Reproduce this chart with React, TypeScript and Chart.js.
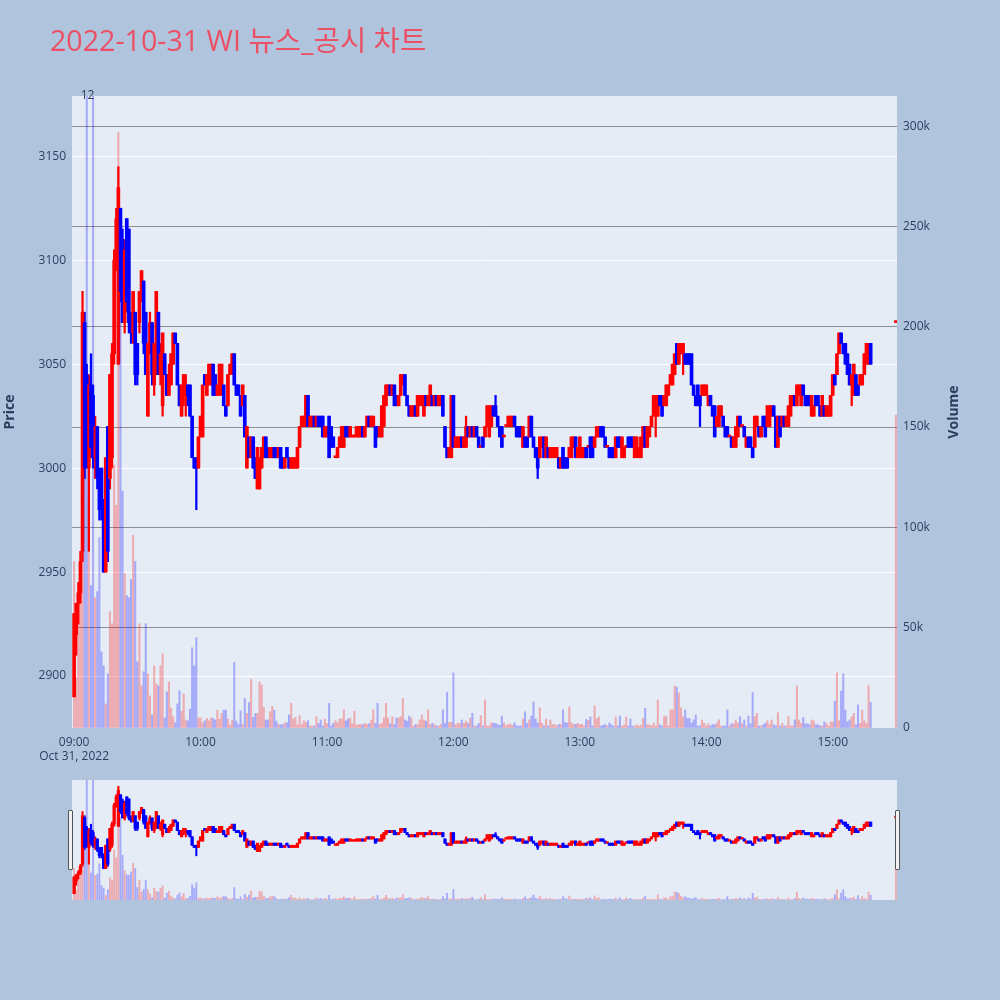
import React, { useEffect, useRef } from "react";
import { Chart, registerables } from "chart.js";

Chart.register(...registerables);

const TITLE = "2022-10-31 WI 뉴스_공시 차트";
const DATE_LABEL = "Oct 31, 2022";
const PRICE_TITLE = "Price";
const VOLUME_TITLE = "Volume";

// minutes after 09:00
const TIME_TICKS = [0, 60, 120, 180, 240, 300, 360];
const TIME_TICK_LABELS = ["09:00", "10:00", "11:00", "12:00", "13:00", "14:00", "15:00"];
const PRICE_TICKS = [2900, 2950, 3000, 3050, 3100, 3150];
const VOLUME_TICKS = [0, 50000, 100000, 150000, 200000, 250000, 300000];
const VOLUME_TICK_LABELS = ["0", "50k", "100k", "150k", "200k", "250k", "300k"];

const ANNOTATION_MINUTE = 6.4;
const ANNOTATION_TEXT = "12";

// one-minute candles from 09:00 (minute 0) to 15:19 (minute 379): [open, high, low, close]
const OHLC: number[][] = [
  [2890,2930,2890,2930],[2920,2935,2910,2935],[2935,2945,2925,2940],[2940,2960,2935,2955],[2960,3085,2955,3075],
  [3070,3075,2995,3000],[3045,3050,3000,3010],[3000,3045,2960,3040],[3040,3055,3005,3010],[3035,3040,3000,3005],
  [3005,3025,2995,3020],[3020,3020,2990,2995],[2995,3000,2975,2980],[3000,3000,2975,2980],[2980,2985,2950,2950],
  [2950,3005,2950,3005],[3020,3020,2955,2960],[2995,3045,2990,3045],[3005,3060,3000,3055],[3055,3105,3050,3100],
  [3100,3125,3095,3120],[3050,3145,3050,3135],[3125,3125,3080,3085],[3110,3115,3070,3070],[3070,3110,3065,3105],
  [3120,3120,3075,3080],[3115,3115,3065,3070],[3070,3075,3060,3065],[3065,3085,3060,3085],[3075,3075,3040,3045],
  [3060,3060,3040,3045],[3070,3085,3065,3085],[3085,3095,3080,3095],[3090,3090,3055,3060],[3075,3075,3045,3045],
  [3025,3060,3025,3060],[3060,3075,3055,3070],[3070,3070,3040,3045],[3040,3060,3035,3060],[3045,3085,3045,3085],
  [3075,3075,3045,3045],[3045,3060,3040,3055],[3030,3065,3025,3065],[3055,3055,3045,3045],[3045,3045,3035,3035],
  [3035,3050,3035,3045],[3040,3055,3040,3055],[3050,3065,3050,3065],[3065,3065,3060,3060],[3060,3060,3040,3040],
  [3040,3040,3030,3030],[3025,3040,3025,3040],[3035,3045,3030,3045],[3035,3045,3025,3040],[3040,3040,3030,3035],
  [3040,3040,3025,3025],[3025,3025,3005,3005],[3005,3005,3000,3000],[3005,3005,2980,3000],[3000,3015,3000,3015],
  [3015,3025,3015,3025],[3015,3040,3015,3040],[3045,3045,3040,3040],[3035,3045,3035,3045],[3040,3050,3040,3050],
  [3040,3050,3040,3050],[3050,3050,3035,3035],[3045,3045,3035,3035],[3035,3040,3035,3040],[3035,3050,3035,3050],
  [3040,3050,3035,3050],[3040,3040,3030,3030],[3030,3030,3025,3025],[3030,3045,3030,3045],[3045,3050,3045,3050],
  [3045,3055,3045,3055],[3055,3055,3040,3040],[3040,3040,3035,3035],[3040,3040,3035,3035],[3035,3035,3025,3025],
  [3030,3040,3030,3040],[3035,3035,3015,3015],[3000,3020,3000,3020],[3015,3015,3005,3005],[3005,3015,3005,3015],
  [3015,3015,3000,3000],[3005,3005,2995,2995],[2990,3010,2990,3010],[2990,3005,2990,3005],[3000,3010,3000,3010],
  [3005,3015,3005,3015],[3015,3015,3005,3005],[3010,3010,3005,3005],[3005,3010,3005,3010],[3005,3010,3005,3010],
  [3010,3010,3005,3005],[3010,3010,3005,3005],[3005,3010,3005,3010],[3010,3010,3000,3000],[3005,3005,3000,3000],
  [3000,3005,3000,3005],[3010,3010,3005,3005],[3005,3005,3000,3000],[3000,3005,3000,3005],[3000,3005,3000,3005],
  [3000,3005,3000,3005],[3000,3010,3000,3010],[3010,3020,3010,3020],[3020,3025,3020,3025],[3020,3025,3020,3025],
  [3020,3035,3020,3035],[3035,3035,3020,3020],[3020,3025,3020,3025],[3020,3025,3020,3025],[3025,3025,3020,3020],
  [3020,3025,3020,3025],[3025,3025,3020,3020],[3025,3025,3020,3020],[3025,3025,3015,3015],[3015,3020,3015,3020],
  [3015,3020,3015,3020],[3025,3025,3005,3005],[3020,3020,3010,3010],[3015,3015,3010,3010],[3005,3005,3005,3005],
  [3005,3010,3005,3010],[3010,3015,3010,3015],[3010,3020,3010,3020],[3010,3020,3010,3020],[3020,3020,3015,3015],
  [3020,3020,3015,3015],[3015,3020,3015,3020],[3015,3015,3015,3015],[3015,3015,3015,3015],[3015,3020,3015,3020],
  [3015,3020,3015,3020],[3015,3020,3015,3020],[3020,3020,3015,3015],[3015,3020,3015,3020],[3020,3025,3020,3025],
  [3025,3025,3020,3020],[3020,3025,3020,3025],[3020,3025,3020,3025],[3020,3020,3010,3010],[3020,3020,3015,3015],
  [3015,3020,3015,3020],[3015,3030,3015,3030],[3020,3035,3020,3035],[3030,3040,3030,3040],[3035,3040,3035,3040],
  [3040,3040,3035,3035],[3035,3040,3035,3040],[3040,3040,3030,3030],[3035,3035,3030,3030],[3030,3035,3030,3035],
  [3035,3045,3035,3045],[3040,3045,3040,3045],[3045,3045,3035,3035],[3035,3035,3030,3030],[3030,3030,3025,3025],
  [3025,3030,3025,3030],[3025,3030,3025,3030],[3030,3030,3025,3025],[3025,3035,3025,3035],[3030,3035,3030,3035],
  [3030,3035,3030,3035],[3025,3035,3025,3035],[3035,3035,3030,3030],[3030,3035,3030,3035],[3030,3040,3030,3040],
  [3035,3035,3030,3030],[3030,3035,3030,3035],[3035,3035,3030,3030],[3030,3035,3030,3035],[3030,3035,3030,3035],
  [3035,3035,3025,3025],[3020,3020,3010,3010],[3010,3010,3005,3005],[3005,3010,3005,3010],[3005,3035,3005,3035],
  [3035,3035,3010,3010],[3010,3015,3010,3015],[3010,3015,3010,3015],[3010,3015,3010,3015],[3015,3015,3010,3010],
  [3010,3015,3010,3015],[3010,3025,3010,3020],[3020,3020,3015,3015],[3015,3020,3015,3020],[3020,3020,3015,3015],
  [3015,3020,3015,3020],[3020,3020,3015,3015],[3015,3015,3010,3010],[3010,3010,3010,3010],[3015,3015,3010,3010],
  [3015,3020,3015,3020],[3020,3030,3020,3030],[3015,3030,3015,3030],[3020,3030,3020,3030],[3030,3030,3025,3025],
  [3030,3035,3025,3025],[3025,3025,3020,3020],[3020,3020,3015,3015],[3020,3020,3010,3010],[3015,3015,3015,3015],
  [3020,3020,3020,3020],[3020,3025,3020,3025],[3020,3025,3020,3025],[3020,3025,3020,3025],[3025,3025,3020,3020],
  [3020,3020,3015,3015],[3020,3020,3015,3015],[3020,3020,3015,3015],[3010,3020,3010,3020],[3015,3015,3010,3010],
  [3015,3015,3010,3010],[3015,3025,3015,3025],[3025,3025,3015,3015],[3015,3015,3010,3010],[3010,3010,3005,3005],
  [3010,3010,2995,3000],[3005,3015,3005,3015],[3010,3015,3010,3015],[3015,3015,3005,3005],[3005,3015,3005,3015],
  [3010,3010,3005,3005],[3005,3010,3005,3010],[3005,3010,3005,3010],[3005,3010,3005,3010],[3005,3010,3005,3010],
  [3005,3005,3000,3000],[3000,3005,3000,3005],[3010,3010,3000,3000],[3005,3005,3000,3000],[3005,3005,3000,3000],
  [3005,3010,3005,3010],[3005,3015,3005,3015],[3010,3015,3010,3015],[3015,3015,3005,3005],[3005,3010,3005,3010],
  [3005,3015,3005,3015],[3005,3010,3005,3010],[3005,3010,3005,3010],[3010,3010,3005,3005],[3010,3010,3010,3010],
  [3015,3015,3005,3005],[3015,3015,3005,3005],[3010,3015,3010,3015],[3015,3020,3015,3020],[3015,3020,3015,3020],
  [3020,3020,3015,3015],[3020,3020,3015,3015],[3015,3015,3010,3010],[3010,3010,3010,3010],[3010,3010,3005,3005],
  [3010,3010,3005,3005],[3010,3010,3005,3005],[3005,3015,3005,3015],[3015,3015,3010,3010],[3015,3015,3010,3010],
  [3005,3015,3005,3015],[3005,3010,3005,3010],[3010,3010,3010,3010],[3015,3015,3010,3010],[3015,3015,3010,3010],
  [3015,3015,3010,3010],[3005,3015,3005,3015],[3010,3015,3005,3015],[3005,3010,3005,3010],[3005,3015,3005,3015],
  [3010,3020,3010,3020],[3020,3020,3010,3010],[3010,3020,3010,3020],[3015,3020,3015,3020],[3020,3025,3020,3025],
  [3025,3035,3025,3035],[3025,3035,3015,3035],[3025,3035,3025,3035],[3035,3035,3030,3030],[3035,3035,3025,3025],
  [3030,3035,3030,3035],[3030,3040,3030,3040],[3035,3040,3035,3040],[3040,3045,3040,3045],[3040,3050,3040,3050],
  [3045,3055,3045,3055],[3060,3060,3050,3050],[3050,3060,3050,3060],[3055,3060,3055,3060],[3055,3060,3045,3060],
  [3055,3055,3050,3050],[3055,3055,3050,3050],[3055,3055,3050,3050],[3055,3055,3040,3040],[3040,3040,3035,3035],
  [3035,3035,3030,3030],[3040,3040,3030,3030],[3035,3035,3020,3030],[3035,3040,3035,3040],[3035,3040,3035,3040],
  [3035,3040,3035,3040],[3030,3035,3030,3035],[3035,3035,3030,3030],[3030,3030,3025,3025],[3030,3030,3015,3015],
  [3020,3025,3020,3025],[3020,3030,3020,3030],[3025,3030,3025,3030],[3025,3025,3020,3020],[3020,3020,3015,3015],
  [3020,3020,3015,3015],[3015,3015,3015,3015],[3015,3015,3010,3010],[3010,3015,3010,3015],[3010,3020,3010,3020],
  [3015,3025,3015,3025],[3025,3025,3020,3020],[3020,3020,3020,3020],[3020,3020,3015,3015],[3010,3015,3010,3015],
  [3015,3015,3010,3010],[3015,3015,3010,3010],[3010,3010,3005,3005],[3010,3025,3010,3025],[3020,3025,3020,3025],
  [3020,3020,3015,3015],[3015,3020,3015,3020],[3025,3025,3020,3020],[3025,3025,3015,3015],[3020,3030,3020,3030],
  [3020,3030,3020,3030],[3025,3030,3025,3030],[3030,3030,3025,3025],[3025,3025,3010,3010],[3010,3025,3010,3025],
  [3025,3025,3015,3015],[3020,3025,3020,3025],[3025,3025,3020,3020],[3020,3025,3020,3025],[3020,3030,3020,3030],
  [3025,3035,3025,3035],[3030,3035,3030,3035],[3035,3035,3030,3030],[3030,3040,3030,3040],[3035,3040,3035,3040],
  [3030,3040,3030,3040],[3040,3040,3035,3035],[3035,3035,3030,3030],[3035,3035,3030,3030],[3035,3035,3030,3030],
  [3025,3035,3025,3035],[3025,3030,3025,3030],[3035,3035,3030,3030],[3035,3035,3030,3030],[3030,3030,3025,3025],
  [3025,3035,3025,3035],[3030,3030,3025,3025],[3025,3030,3025,3030],[3025,3030,3025,3030],[3025,3035,3025,3035],
  [3035,3045,3035,3045],[3045,3045,3040,3040],[3045,3055,3045,3055],[3055,3065,3055,3065],[3065,3065,3060,3060],
  [3060,3060,3055,3055],[3060,3060,3050,3050],[3055,3055,3045,3045],[3050,3050,3040,3040],[3040,3045,3030,3045],
  [3035,3050,3035,3050],[3045,3045,3035,3035],[3040,3040,3035,3035],[3040,3045,3040,3045],[3040,3045,3040,3045],
  [3045,3055,3045,3055],[3050,3060,3050,3060],[3050,3060,3050,3060],[3060,3060,3050,3050],
];

// volume per minute, thousands of shares
const VOLUMES_K: number[] = [
  83, 25, 63, 72, 164, 170, 340, 113, 71, 340,
  65, 68, 95, 38, 31, 12, 27, 58, 52, 131,
  111, 297, 216, 118, 77, 66, 65, 74, 96, 83,
  33, 52, 21, 28, 52, 27, 16, 6.5, 31, 22,
  21, 31, 37, 5, 18, 23, 10, 5.6, 2.6, 12,
  18.5, 8.4, 17, 4, 3.6, 9.4, 40, 31, 45, 5,
  5, 2.6, 3.6, 4.8, 3.6, 5, 4.8, 4, 8.8, 4.5,
  7.3, 9, 9, 4.5, 1.5, 4, 32.7, 3.4, 1.7, 8.6,
  1.7, 14.7, 7.3, 12.6, 24.2, 5.3, 7.3, 7.3, 23, 21.4,
  10.3, 4, 4, 8.1, 10.8, 8.8, 3.4, 1.7, 1.7, 1.7,
  2.6, 2.6, 6.5, 12.3, 4.5, 5.3, 1.7, 6.2, 1.7, 3.6,
  2.8, 3.6, 1, 1, 1, 5.6, 2.1, 4, 1, 4.5,
  2.1, 12.3, 1, 2.3, 3.6, 2.6, 4.5, 4.5, 9, 3.6,
  4.5, 5, 2.1, 8.4, 1.3, 1.7, 1.7, 1.7, 2.3, 1.7,
  2.1, 4, 9, 2.3, 12.3, 1.7, 2.3, 5, 12.3, 5,
  2.1, 5.6, 1.7, 5, 5, 5.6, 14.8, 4, 3.4, 5.9,
  5, 1, 1.7, 1.7, 4, 6.5, 4, 3.4, 9, 1.7,
  2.3, 1.7, 1, 1, 1.7, 9, 2.3, 17.8, 2.8, 2.8,
  27.5, 1.7, 2.3, 2.3, 4, 2.3, 3.4, 2.3, 5, 7.3,
  1, 1, 2.3, 6.2, 1, 14, 1, 1, 2.6, 2.3,
  2.3, 1.7, 1.3, 5.9, 2.6, 1, 1.7, 2, 1.3, 2.6,
  1, 1, 1, 4.5, 8.1, 2.3, 4, 5.9, 13, 4.5,
  2.5, 10.1, 2.3, 1, 4.5, 1, 4, 1.8, 1.8, 1,
  1.8, 1.8, 9, 2.8, 2.5, 10.6, 2.6, 1.8, 1.8, 2.3,
  1.8, 1.8, 1, 4.3, 3.8, 5.5, 1, 11, 4.6, 5.5,
  1, 1.3, 1.8, 1, 2.5, 1.6, 1, 5.5, 1, 6,
  1, 1.6, 5.5, 1, 4.5, 1, 1, 1.6, 1, 1.3,
  4.8, 9.8, 1.6, 1.6, 1, 2.5, 1, 14, 1.6, 1,
  5.6, 5.9, 1, 9, 9, 21, 20.3, 17.5, 10, 5.6,
  9, 4.8, 4.8, 2.5, 4, 6.5, 1, 1, 4, 2.3,
  1, 2.1, 1, 1.8, 1.6, 2.5, 4.1, 1, 1, 1,
  9, 1, 2.1, 2, 4, 2.5, 5.6, 2.1, 4, 1,
  5.9, 2.1, 17.7, 5.6, 7.3, 1, 1, 1.6, 2.3, 3.6,
  1.8, 4, 1.6, 1, 7.6, 1, 2.3, 1, 1, 5.6,
  1, 1, 4, 20.9, 4, 2.3, 5.3, 2.1, 2.1, 1.6,
  4, 3.6, 1.6, 1.6, 1, 1, 3.1, 2.3, 1, 3,
  3, 13.5, 27.5, 3.6, 18.4, 27, 8.9, 3.1, 4, 5.6,
  7.3, 1.6, 11.5, 2.3, 8.9, 3.6, 2.3, 21.1, 12.8, 21.1,
];

// closing auction at 15:30
const CLOSING_MINUTE = 390;
const CLOSING_OHLC = [3070, 3070, 3070, 3070];
const CLOSING_VOLUME_K = 156;

const UP = "#ff0000";
const DOWN = "#0000ff";
const VOL_UP = "rgba(255,0,0,0.28)";
const VOL_DOWN = "rgba(0,0,255,0.28)";
const PAPER = "#b0c4de";
const PLOT_BG = "#e5ecf6";
const TEXT = "#2a3f5f";
const TITLE_COLOR = "#eb5064";
const FONT = '"Open Sans", "Noto Sans CJK KR", sans-serif';

type Candle = { m: number; o: number; h: number; l: number; c: number; v: number };

function buildCandles(): Candle[] {
  const list: Candle[] = OHLC.map((r, i) => ({ m: i, o: r[0], h: r[1], l: r[2], c: r[3], v: VOLUMES_K[i] * 1000 }));
  list.push({ m: CLOSING_MINUTE, o: CLOSING_OHLC[0], h: CLOSING_OHLC[1], l: CLOSING_OHLC[2], c: CLOSING_OHLC[3], v: CLOSING_VOLUME_K * 1000 });
  return list;
}

function makeDatasets(cs: Candle[], w: { vol: number; body: number; wick: number; minLen: number }) {
  const up = (c: Candle) => c.c >= c.o;
  return [
    {
      type: "bar" as const,
      label: "Volume",
      yAxisID: "yv",
      data: cs.map((c) => ({ x: c.m, y: c.v })),
      backgroundColor: cs.map((c) => (up(c) ? VOL_UP : VOL_DOWN)),
      barThickness: w.vol,
      grouped: false,
      order: 0,
    },
    {
      type: "bar" as const,
      label: "Body",
      yAxisID: "y",
      data: cs.map((c) => ({ x: c.m, y: [Math.min(c.o, c.c), Math.max(c.o, c.c)] })),
      backgroundColor: cs.map((c) => (up(c) ? UP : DOWN)),
      barThickness: w.body,
      minBarLength: w.minLen,
      grouped: false,
      order: 1,
    },
    {
      type: "bar" as const,
      label: "Wick",
      yAxisID: "y",
      data: cs.map((c) => ({ x: c.m, y: [c.l, c.h] })),
      backgroundColor: cs.map((c) => (up(c) ? UP : DOWN)),
      barThickness: w.wick,
      grouped: false,
      order: 2,
    },
  ];
}

const X_MIN = -1;
const X_MAX = 390.5;

export default function App() {
  const mainRef = useRef<HTMLCanvasElement>(null);
  const miniRef = useRef<HTMLCanvasElement>(null);

  useEffect(() => {
    const candles = buildCandles();

    const bgPlugin = {
      id: "plotbg",
      beforeDraw(chart: any) {
        const { ctx, chartArea } = chart;
        ctx.save();
        ctx.fillStyle = PLOT_BG;
        ctx.fillRect(chartArea.left, chartArea.top, chartArea.right - chartArea.left, chartArea.bottom - chartArea.top);
        ctx.restore();
      },
    };

    const textPlugin = {
      id: "texts",
      afterDraw(chart: any) {
        const { ctx, chartArea } = chart;
        const xs = chart.scales.x;
        ctx.save();
        ctx.fillStyle = TITLE_COLOR;
        ctx.font = "28.6px " + FONT;
        ctx.textAlign = "left";
        ctx.textBaseline = "alphabetic";
        ctx.fillText(TITLE, 50, 51);

        const cy = (chartArea.top + chartArea.bottom) / 2;
        ctx.fillStyle = TEXT;
        ctx.font = "bold 14px " + FONT;
        ctx.textAlign = "center";
        ctx.textBaseline = "middle";
        ctx.save();
        ctx.translate(10, cy);
        ctx.rotate(-Math.PI / 2);
        ctx.fillText(PRICE_TITLE, 0, 0);
        ctx.restore();
        ctx.save();
        ctx.translate(954, cy);
        ctx.rotate(-Math.PI / 2);
        ctx.fillText(VOLUME_TITLE, 0, 0);
        ctx.restore();

        ctx.font = "12px " + FONT;
        ctx.fillText(DATE_LABEL, xs.getPixelForValue(TIME_TICKS[0]), 757);
        ctx.fillText(ANNOTATION_TEXT, xs.getPixelForValue(ANNOTATION_MINUTE), 96);
        ctx.restore();
      },
    };

    const tickFont = { family: FONT, size: 12 };

    const main = new Chart(mainRef.current as HTMLCanvasElement, {
      type: "bar",
      data: { datasets: makeDatasets(candles, { vol: 1.4, body: 3, wick: 1.6, minLen: 2 }) as any },
      options: {
        animation: false,
        responsive: false,
        maintainAspectRatio: false,
        events: [],
        layout: { padding: { top: 96, bottom: 232, left: 0, right: 0 } },
        plugins: { legend: { display: false }, tooltip: { enabled: false }, title: { display: false } },
        scales: {
          x: {
            type: "linear",
            min: X_MIN,
            max: X_MAX,
            offset: false,
            grid: { display: false, drawTicks: false },
            border: { display: false },
            afterBuildTicks: (s: any) => {
              s.ticks = TIME_TICKS.map((v) => ({ value: v }));
            },
            afterFit: (s: any) => {
              s.height = 40;
            },
            ticks: {
              autoSkip: false,
              maxRotation: 0,
              padding: 7,
              color: TEXT,
              font: tickFont,
              callback: (v: any) => TIME_TICK_LABELS[TIME_TICKS.indexOf(Number(v))] ?? "",
            },
          },
          y: {
            type: "linear",
            position: "left",
            min: 2875,
            max: 3179,
            grid: { color: "#ffffff", lineWidth: 1, drawTicks: false },
            border: { display: false },
            afterBuildTicks: (s: any) => {
              s.ticks = PRICE_TICKS.map((v) => ({ value: v }));
            },
            afterFit: (s: any) => {
              s.width = 72;
            },
            ticks: { padding: 6, color: TEXT, font: tickFont, callback: (v: any) => String(v) },
          },
          yv: {
            type: "linear",
            position: "right",
            min: 0,
            max: 315000,
            grid: {
              color: (c: any) => (c.tick && c.tick.value === 0 ? "rgba(0,0,0,0)" : "#8e8e8e"),
              lineWidth: 1,
              drawTicks: false,
            },
            border: { display: false },
            afterBuildTicks: (s: any) => {
              s.ticks = VOLUME_TICKS.map((v) => ({ value: v }));
            },
            afterFit: (s: any) => {
              s.width = 103;
            },
            ticks: {
              padding: 6,
              color: TEXT,
              font: tickFont,
              callback: (v: any) => VOLUME_TICK_LABELS[VOLUME_TICKS.indexOf(Number(v))] ?? "",
            },
          },
        },
      } as any,
      plugins: [bgPlugin, textPlugin],
    });

    const miniBg = {
      id: "minibg",
      beforeDraw(chart: any) {
        const { ctx, width, height } = chart;
        ctx.save();
        ctx.fillStyle = PLOT_BG;
        ctx.fillRect(0, 0, width, height);
        ctx.restore();
      },
    };

    const mini = new Chart(miniRef.current as HTMLCanvasElement, {
      type: "bar",
      data: { datasets: makeDatasets(candles, { vol: 1.2, body: 2.6, wick: 1.4, minLen: 1.5 }) as any },
      options: {
        animation: false,
        responsive: false,
        maintainAspectRatio: false,
        events: [],
        layout: { padding: 0 },
        plugins: { legend: { display: false }, tooltip: { enabled: false } },
        scales: {
          x: { type: "linear", display: false, min: X_MIN, max: X_MAX, offset: false },
          y: { type: "linear", display: false, min: 2875, max: 3160 },
          yv: { type: "linear", display: false, min: 0, max: 315000 },
        },
      } as any,
      plugins: [miniBg],
    });

    return () => {
      main.destroy();
      mini.destroy();
    };
  }, []);

  const handle: React.CSSProperties = {
    position: "absolute",
    top: 810,
    width: 5,
    height: 60,
    boxSizing: "border-box",
    border: "1px solid #555",
    background: "#f2f2f2",
    borderRadius: 1,
  };

  return (
    <div style={{ position: "relative", width: 1000, height: 1000, background: PAPER, overflow: "hidden" }}>
      <style>{`html,body{margin:0;padding:0;background:${PAPER};}`}</style>
      <canvas ref={mainRef} width={1000} height={1000} style={{ position: "absolute", left: 0, top: 0, width: 1000, height: 1000 }} />
      <canvas ref={miniRef} width={825} height={120} style={{ position: "absolute", left: 72, top: 780, width: 825, height: 120 }} />
      <div style={{ ...handle, left: 68 }} />
      <div style={{ ...handle, left: 895 }} />
    </div>
  );
}
